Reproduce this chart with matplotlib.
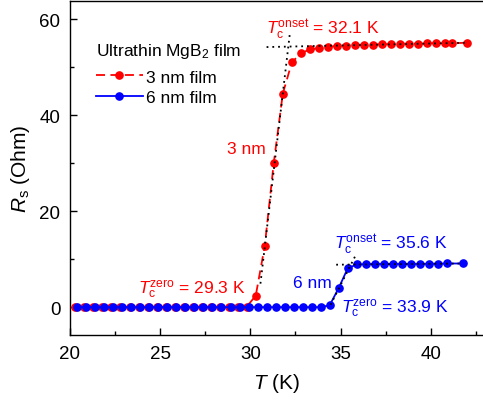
import numpy as np
import matplotlib
matplotlib.use("Agg")
import matplotlib.pyplot as plt
from matplotlib.ticker import MultipleLocator

plt.rcParams['font.family'] = ['Liberation Sans', 'DejaVu Sans']
plt.rcParams['mathtext.fontset'] = 'custom'
plt.rcParams['mathtext.rm'] = 'Liberation Sans'
plt.rcParams['mathtext.it'] = 'Liberation Sans:italic'
plt.rcParams['mathtext.bf'] = 'Liberation Sans:bold'

# ---- data ----
red_T = [20.3, 20.8, 21.3, 21.8, 22.3, 22.8, 23.3, 23.8, 24.3, 24.8, 25.3, 25.8,
         26.3, 26.8, 27.3, 27.8, 28.3, 28.8, 29.3, 29.8,
         30.3, 30.8, 31.3, 31.8, 32.3, 32.8, 33.3, 33.8, 34.3, 34.8, 35.3, 35.8,
         36.3, 36.8, 37.3, 37.8, 38.3, 38.8, 39.3, 39.8, 40.3, 40.8, 41.2, 42.0]
red_R = [0.0, 0.0, 0.0, 0.0, 0.0, 0.0, 0.0, 0.0, 0.0, 0.0, 0.0, 0.0,
         0.0, 0.0, 0.0, 0.0, 0.0, 0.0, 0.0, 0.1,
         2.4, 12.8, 30.1, 44.5, 51.0, 52.9, 53.7, 54.0, 54.3, 54.4, 54.5, 54.6,
         54.7, 54.7, 54.8, 54.8, 54.9, 54.9, 54.9, 55.0, 55.0, 55.0, 55.0, 55.1]

blue_T = [20.4, 20.9, 21.4, 21.9, 22.4, 22.9, 23.4, 23.9, 24.4, 24.9, 25.4, 25.9,
          26.4, 26.9, 27.4, 27.9, 28.4, 28.9, 29.4, 29.9, 30.4, 30.9, 31.4, 31.9,
          32.4, 32.9, 33.4, 33.9, 34.4, 34.9, 35.4, 35.9, 36.4, 36.9, 37.4, 37.9,
          38.4, 38.9, 39.4, 39.9, 40.4, 40.9, 41.8]
blue_R = [0.0] * 28 + [0.4, 4.0, 8.1, 8.9, 8.95, 9.0, 9.0, 9.0, 9.0, 9.0, 9.0,
                       9.05, 9.05, 9.1, 9.1]

# tangent / fit lines (T, R)
red_fit_steep_T = [30.56, 32.18]
red_fit_steep_R = [4.9, 56.7]
red_fit_flat_T = [30.9, 42.0]
red_fit_flat_R = [54.2, 55.1]
blue_fit_steep_T = [34.45, 35.83]
blue_fit_steep_R = [0.5, 10.75]
blue_fit_flat_T = [34.76, 41.8]
blue_fit_flat_R = [8.85, 9.1]

legend_title = "Ultrathin MgB$_2$ film"
labels = ["3 nm film", "6 nm film"]

RED = (1.0, 0.0, 0.0)
BLUE = (0.0, 0.0, 1.0)

fig = plt.figure(figsize=(4.83, 4.06), dpi=100)
ax = fig.add_axes([0.1449, 0.1724, 0.8551, 0.8227])

ax.plot(red_T, red_R, color=RED, ls=(0, (5, 3)), lw=1.3, marker='o', ms=5.2,
        mec=RED, mfc=RED, label=labels[0], zorder=3)
ax.plot(blue_T, blue_R, color=BLUE, ls='-', lw=1.3, marker='o', ms=5.2,
        mec=BLUE, mfc=BLUE, label=labels[1], zorder=4)

dot = dict(color='black', ls=(0, (1, 2.2)), lw=1.3, zorder=5)
ax.plot(red_fit_steep_T, red_fit_steep_R, **dot)
ax.plot(red_fit_flat_T, red_fit_flat_R, **dot)
ax.plot(blue_fit_steep_T, blue_fit_steep_R, **dot)
ax.plot(blue_fit_flat_T, blue_fit_flat_R, **dot)

ax.set_xlim(20, 42.9)
ax.set_ylim(-5.8, 63.8)
ax.xaxis.set_major_locator(MultipleLocator(5))
ax.xaxis.set_minor_locator(MultipleLocator(2.5))
ax.yaxis.set_major_locator(MultipleLocator(20))
ax.yaxis.set_minor_locator(MultipleLocator(10))
ax.tick_params(which='both', direction='in', labelsize=13.5, width=1.0)
ax.tick_params(which='major', length=5, pad=7)
ax.tick_params(which='minor', length=3)
ax.tick_params(axis='both', top=False, right=False)
for s in ax.spines.values():
    s.set_linewidth(1.0)
ax.spines['right'].set_visible(False)

ax.set_xlabel("$T$ (K)", fontsize=15, labelpad=7)
ax.set_ylabel("$R_\\mathrm{s}$ (Ohm)", fontsize=15, labelpad=5)

ax.text(0.063, 0.853, legend_title, transform=ax.transAxes, fontsize=12.5,
        ha='left', va='center')
leg = ax.legend(loc='center left', bbox_to_anchor=(0.063, 0.742),
                frameon=False, fontsize=12.5, handlelength=2.7,
                handletextpad=0.2, labelspacing=0.3, borderaxespad=0, borderpad=0)

fs = 12.5
ax.text(30.85, 58.0, "$T_\\mathrm{c}^\\mathrm{onset}$ = 32.1 K", color=RED, fontsize=fs,
        ha='left', va='center')
ax.text(28.7, 33.0, "3 nm", color=RED, fontsize=fs, ha='left', va='center')
ax.text(23.75, 3.9, "$T_\\mathrm{c}^\\mathrm{zero}$ = 29.3 K", color=RED, fontsize=fs,
        ha='left', va='center')
ax.text(32.35, 5.1, "6 nm", color=BLUE, fontsize=fs, ha='left', va='center')
ax.text(34.65, 13.2, "$T_\\mathrm{c}^\\mathrm{onset}$ = 35.6 K", color=BLUE, fontsize=fs,
        ha='left', va='center')
ax.text(35.0, 0.0, "$T_\\mathrm{c}^\\mathrm{zero}$ = 33.9 K", color=BLUE, fontsize=fs,
        ha='left', va='center')

fig.savefig("out.png", dpi=100)
